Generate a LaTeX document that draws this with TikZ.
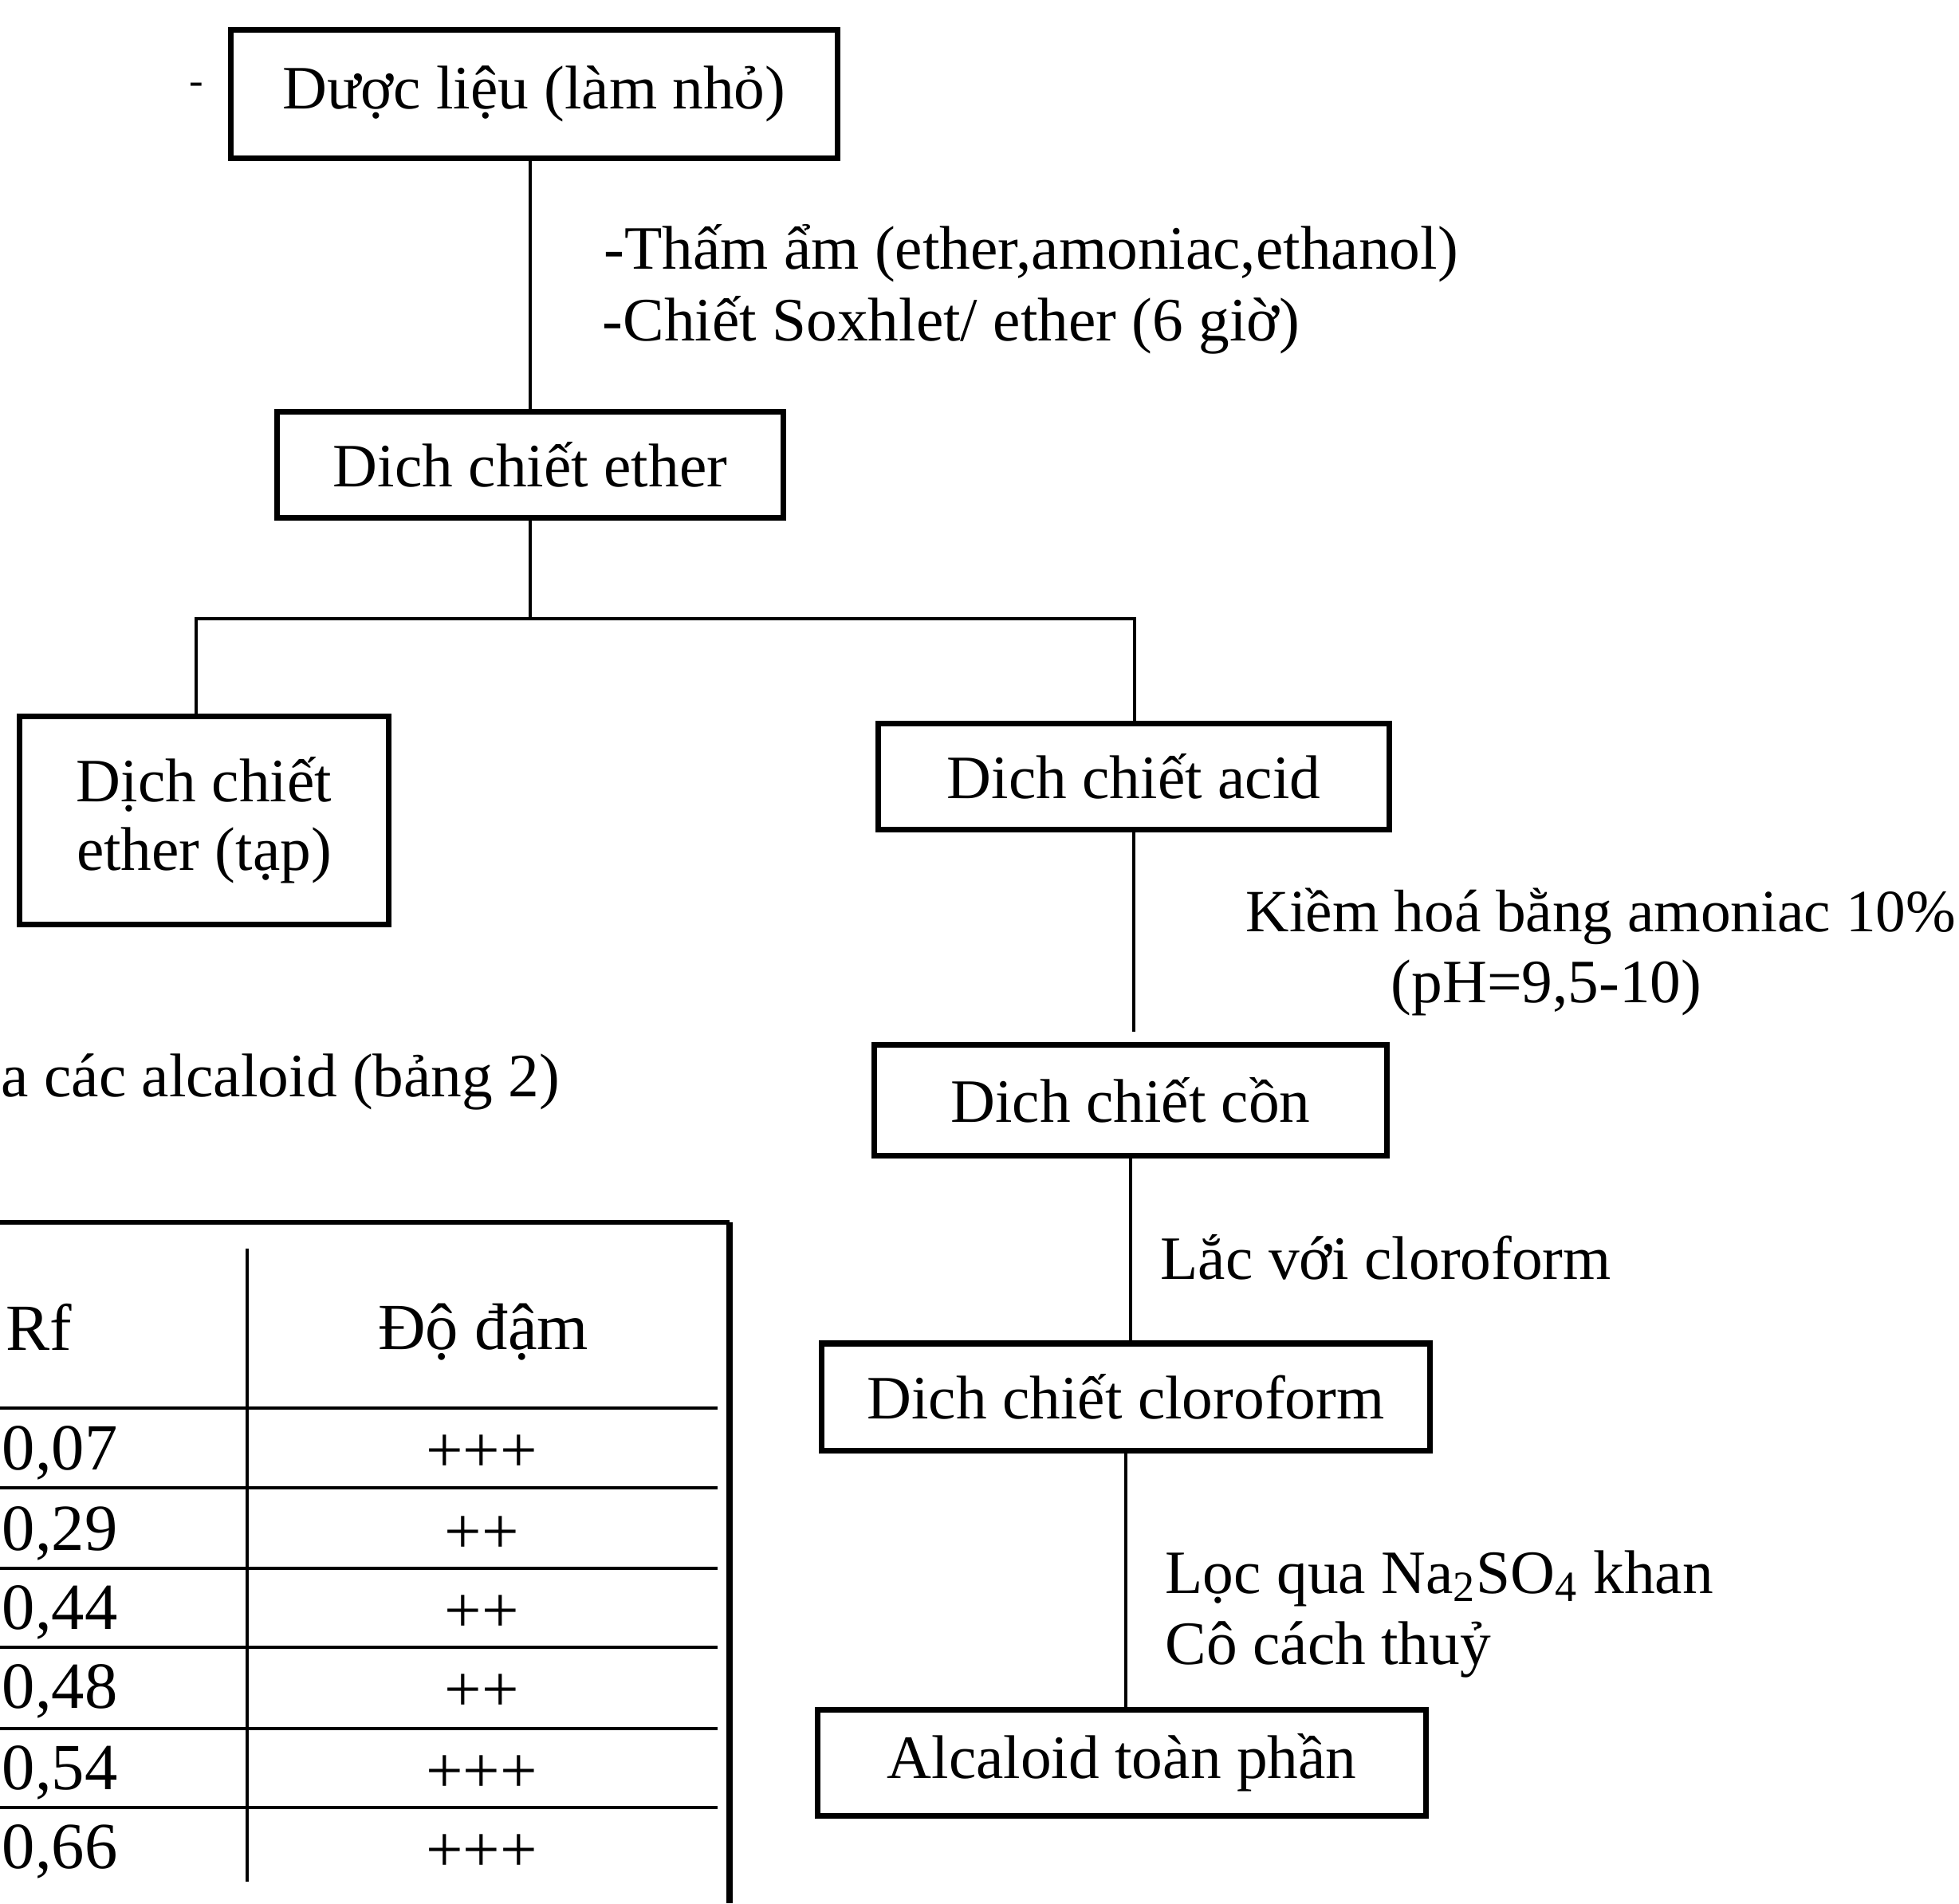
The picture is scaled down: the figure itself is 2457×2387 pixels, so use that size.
\documentclass[tikz,border=0pt]{standalone}
\usepackage{fontspec}
\setmainfont{Liberation Serif}
\begin{document}
\begin{tikzpicture}[x=0.01cm,y=-0.01cm,
  box/.style={draw, line width=2pt, inner sep=0pt, align=center, font=\fontsize{22}{24.5}\selectfont},
  conn/.style={line width=1.4pt},
  lbl/.style={inner sep=0pt, anchor=base west, font=\fontsize{22}{24.5}\selectfont},
  tbl/.style={inner sep=0pt, font=\fontsize{23.5}{26}\selectfont},
  tline/.style={line width=1.3pt}]
\useasboundingbox (0,0) rectangle (2457,2387);

% boxes
\node[box, minimum width=7.6cm,  minimum height=1.61cm] (b1) at (670,118)  {Dược liệu (làm nhỏ)};
\node[box, minimum width=6.35cm, minimum height=1.32cm] (b2) at (665,583)  {Dich chiết ether};
\node[box, minimum width=4.62cm, minimum height=2.6cm]  (b3) at (256,1029) {Dịch chiết\\ether (tạp)};
\node[box, minimum width=6.41cm, minimum height=1.32cm] (b4) at (1422,974) {Dich chiết acid};
\node[box, minimum width=6.42cm, minimum height=1.39cm] (b5) at (1418,1380) {Dich chiết cồn};
\node[box, minimum width=7.63cm, minimum height=1.34cm] (b6) at (1412,1752) {Dich chiết cloroform};
\node[box, minimum width=7.63cm, minimum height=1.33cm] (b7) at (1407,2211) {Alcaloid toàn phần};

% connectors
\draw[conn] (b2.north) -- (b2.north |- b1.south);
\coordinate (busL) at (246,776);
\coordinate (busR) at (1423,776);
\draw[conn] (b2.south) -- (b2.south |- busL);
\draw[conn] (busL |- b3.north) -- (busL) -- (busR) -- (busR |- b4.north);
\path (b5.north) ++(0,-13) coordinate (g5);
\draw[conn] (b4.south) -- (b4.south |- g5);
\draw[conn] (b5.south) -- (b5.south |- b6.north);
\draw[conn] (b6.south) -- (b6.south |- b7.north);

% labels
\node[lbl, font=\fontsize{15}{16}\selectfont] (dash) at (237,118) {-};
\node[lbl] (l1a) at (757,337)  {-Thấm ẩm (ether,amoniac,ethanol)};
\node[lbl] (l1b) at (755,427)  {-Chiết Soxhlet/ ether (6 giờ)};
\node[lbl, font=\fontsize{21.4}{24}\selectfont] (l2a) at (1562,1168) {Kiềm hoá bằng amoniac 10\%};
\node[lbl] (l2b) at (1744,1257) {(pH=9,5-10)};
\node[lbl] (l3)  at (1455,1604) {Lắc với cloroform};
\node[lbl] (l4a) at (1461,1998) {Lọc qua Na\textsubscript{2}SO\textsubscript{4} khan};
\node[lbl] (l4b) at (1461,2087) {Cô cách thuỷ};
\node[lbl] (l5)  at (1,1375) {a các alcaloid (bảng 2)};

% table
\draw[line width=1.6pt] (0,1533) -- (915,1533);
\draw[line width=2pt] (915,1533) -- (915,2387);
\draw[tline] (310,1566) -- (310,2360);
\foreach \yy in {1766,1866,1967,2066,2168,2267}
  \draw[tline] (0,\yy) -- (900,\yy);

\node[tbl, anchor=base east] (rf) at (91,1693) {Rf};
\node[tbl, anchor=base] (dd) at (606,1692) {Độ đậm};

\node[tbl, anchor=base west] (v1) at (2,1843) {0,07};
\node[tbl, anchor=base west] (v2) at (2,1944) {0,29};
\node[tbl, anchor=base west] (v3) at (2,2043) {0,44};
\node[tbl, anchor=base west] (v4) at (2,2142) {0,48};
\node[tbl, anchor=base west] (v5) at (2,2244) {0,54};
\node[tbl, anchor=base west] (v6) at (2,2343) {0,66};

\node[tbl, anchor=base] (p1) at (604,1846) {+++};
\node[tbl, anchor=base] (p2) at (604,1948) {++};
\node[tbl, anchor=base] (p3) at (604,2047) {++};
\node[tbl, anchor=base] (p4) at (604,2146) {++};
\node[tbl, anchor=base] (p5) at (604,2248) {+++};
\node[tbl, anchor=base] (p6) at (604,2347) {+++};
\end{tikzpicture}
\end{document}
